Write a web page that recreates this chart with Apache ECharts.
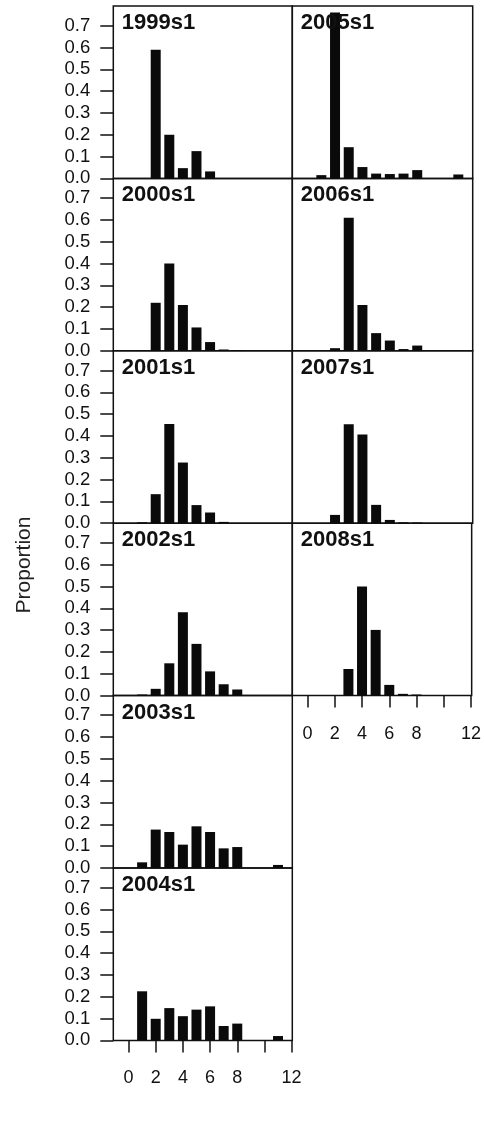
<!DOCTYPE html>
<html>
<head>
<meta charset="utf-8">
<script src="https://cdn.jsdelivr.net/npm/echarts@6/dist/echarts.min.js"></script>
<style>
html,body{margin:0;padding:0;background:#fff;}
#chart{width:484px;height:1144px;}
</style>
</head>
<body>
<div id="chart"></div>
<script>
// Age (x positions) 0..11
const ages = [0,1,2,3,4,5,6,7,8,9,10,11];
const panelNames = ['1999s1','2000s1','2001s1','2002s1','2003s1','2004s1','2005s1','2006s1','2007s1','2008s1'];
const p1999s1 = [0,0,0.59,0.20,0.047,0.125,0.032,0,0,0,0,0];
const p2000s1 = [0,0.002,0.22,0.40,0.21,0.107,0.04,0.006,0.003,0,0,0];
const p2001s1 = [0,0.004,0.133,0.454,0.278,0.083,0.049,0.006,0,0,0,0];
const p2002s1 = [0,0.005,0.031,0.148,0.382,0.237,0.111,0.052,0.028,0,0,0];
const p2003s1 = [0,0.026,0.176,0.165,0.107,0.191,0.165,0.09,0.096,0,0,0.014];
const p2004s1 = [0,0.225,0.099,0.148,0.111,0.141,0.156,0.066,0.077,0,0,0.02];
const p2005s1 = [0,0.015,0.76,0.143,0.052,0.022,0.02,0.022,0.038,0,0,0.018];
const p2006s1 = [0,0,0.012,0.61,0.21,0.081,0.047,0.008,0.024,0,0,0];
const p2007s1 = [0,0,0.038,0.453,0.407,0.084,0.015,0.004,0.003,0,0,0];
const p2008s1 = [0,0,0,0.122,0.50,0.301,0.049,0.008,0.005,0,0,0];
const panelValues = [p1999s1,p2000s1,p2001s1,p2002s1,p2003s1,p2004s1,p2005s1,p2006s1,p2007s1,p2008s1];
const yTicks = [0,0.1,0.2,0.3,0.4,0.5,0.6,0.7];
const xTicks = [0,2,4,6,8,10,12];
const xTickLabels = [0,2,4,6,8,12];
const yAxisTitle = 'Proportion';

const FONT = '"Liberation Sans", Arial, sans-serif';
const INK = '#111';
const TOP0 = 6, PH = 172.4;
const colLeft = [113.3, 292.3], colWidth = [179, 180.4];

const grids = [], xAxes = [], yAxes = [], series = [], graphics = [];
panelNames.forEach((name, i) => {
  const col = i < 6 ? 0 : 1;
  const row = col === 0 ? i : i - 6;
  const isBottom = (col === 0 && row === 5) || (col === 1 && row === 3);
  const top = TOP0 + PH * row;
  grids.push({left: colLeft[col], top: top, width: colWidth[col], height: PH,
    show: true, borderColor: INK, borderWidth: 1.5, backgroundColor: 'transparent', containLabel: false});
  xAxes.push({type: 'value', gridIndex: i, min: -1.12, max: 12.05, position: 'bottom',
    axisLine: {show: false, onZero: false}, splitLine: {show: false},
    axisTick: {show: isBottom, customValues: xTicks, length: 12, lineStyle: {color: INK, width: 1.5}},
    axisLabel: {show: isBottom, customValues: xTickLabels, margin: 29, fontSize: 18, fontFamily: FONT, color: INK}
  });
  yAxes.push({type: 'value', gridIndex: i, min: 0, max: 0.79, position: 'left',
    axisLine: {show: false, onZero: false}, splitLine: {show: false},
    axisTick: {show: col === 0, customValues: yTicks, length: 13, lineStyle: {color: INK, width: 1.5}},
    axisLabel: {show: col === 0, customValues: yTicks, margin: 23, fontSize: 18.5, fontFamily: FONT, color: INK,
      formatter: v => Number(v).toFixed(1)}
  });
  series.push({type: 'bar', xAxisIndex: i, yAxisIndex: i, barWidth: 10,
    itemStyle: {color: '#0a0a0a'}, silent: true,
    data: ages.map((a, k) => [a, panelValues[i][k]])});
  graphics.push({type: 'text', x: colLeft[col] + 8.5, y: top + 17, z: 100,
    style: {text: name, font: 'bold 22px ' + FONT, fill: INK, verticalAlign: 'middle'}});
});
graphics.push({type: 'text', x: 24, y: 565, rotation: Math.PI / 2, z: 100,
  style: {text: yAxisTitle, font: '21px ' + FONT, fill: '#222', align: 'center', verticalAlign: 'middle'}});

const chart = echarts.init(document.getElementById('chart'), null, {renderer: 'canvas'});
chart.setOption({
  animation: false,
  backgroundColor: '#fff',
  grid: grids, xAxis: xAxes, yAxis: yAxes, series: series, graphic: graphics
});
</script>
</body>
</html>
